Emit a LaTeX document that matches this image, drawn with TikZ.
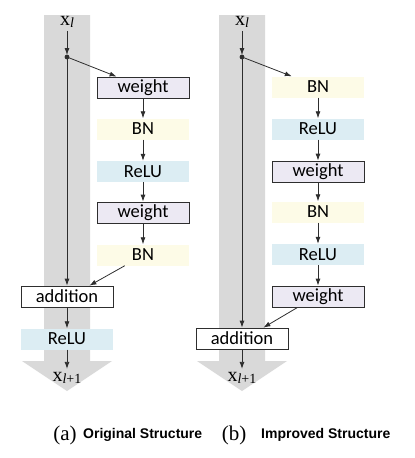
\documentclass[tikz,border=0pt]{standalone}
\usepackage{fontspec}
\setmainfont{Liberation Serif}
\newfontfamily\boxfont{Carlito}
\newfontfamily\capfont{Liberation Sans}
\usepackage{tikz}
\usetikzlibrary{arrows.meta}

\definecolor{bandgray}{HTML}{D9D9D9}
\definecolor{wfill}{HTML}{ECE9F3}
\definecolor{bnfill}{HTML}{FDFBE7}
\definecolor{relufill}{HTML}{DCEDF3}
\definecolor{linegray}{HTML}{2E2E2E}

\newcommand{\labin}{{\fontsize{20}{20}\selectfont x}\raisebox{-1.5pt}{\fontsize{14}{14}\selectfont\itshape l}}
\newcommand{\labout}{{\fontsize{20}{20}\selectfont x}\raisebox{-2pt}{\fontsize{14}{14}\selectfont\itshape l\upshape+1}}

\begin{document}
\begin{tikzpicture}[x=1pt, y=-1pt,
    line/.style={draw=linegray, line width=0.8pt},
    arr/.style={line, -{Latex[length=7pt,width=5pt]}},
    layer/.style={minimum width=92pt, minimum height=21pt, inner sep=0pt,
        font=\boxfont\fontsize{18.5}{18.5}\selectfont},
    wbox/.style={layer, fill=wfill, draw=linegray, line width=0.8pt},
    bnbox/.style={layer, fill=bnfill},
    relubox/.style={layer, fill=relufill},
    addbox/.style={layer, fill=white, draw=linegray, line width=0.8pt}]
    \useasboundingbox (0,0) rectangle (415,458);

    % gray identity bands
    \fill[bandgray] (44,15) -- (90,15) -- (90,361) -- (112,361) -- (67,391)
        -- (22,361) -- (44,361) -- cycle;
    \fill[bandgray] (219,15) -- (265,15) -- (265,361) -- (287,361) -- (242,391)
        -- (197,361) -- (219,361) -- cycle;

    % (a) original
    \node (inA) at (67,22) {\labin};
    \coordinate (dA) at (67,57);
    \fill[linegray] (dA) circle (2.4pt);
    \node[wbox] (wA1) at (143,87.5) {weight};
    \node[bnbox] (bnA1) at (143,129) {BN};
    \node[relubox] (reA1) at (143,171.5) {ReLU};
    \node[wbox] (wA2) at (143,212.5) {weight};
    \node[bnbox] (bnA2) at (143,255) {BN};
    \node[addbox] (addA) at (67,296.5) {addition};
    \node[relubox] (reA2) at (67,339) {ReLU};
    \node (outA) at (67,378) {\labout};

    \draw[arr, shorten >=2pt] (inA) -- (dA);
    \draw[arr] (dA) -- ([xshift=20pt]wA1.north west);
    \draw[arr] (dA) -- (dA |- addA.north);
    \draw[arr] (wA1) -- (bnA1);
    \draw[arr] (bnA1) -- (reA1);
    \draw[arr] (reA1) -- (wA2);
    \draw[arr] (wA2) -- (bnA2);
    \draw[arr] ([xshift=28pt]bnA2.south west) -- ([xshift=-24pt]addA.north east);
    \draw[arr] (addA) -- (reA2);
    \draw[arr] (reA2) -- (outA);

    % (b) improved
    \node (inB) at (242,22) {\labin};
    \coordinate (dB) at (242,57);
    \fill[linegray] (dB) circle (2.4pt);
    \node[bnbox] (bnB1) at (318,87) {BN};
    \node[relubox] (reB1) at (318,129) {ReLU};
    \node[wbox] (wB1) at (318,171.5) {weight};
    \node[bnbox] (bnB2) at (318,212) {BN};
    \node[relubox] (reB2) at (318,254.5) {ReLU};
    \node[wbox] (wB2) at (318,296.5) {weight};
    \node[addbox] (addB) at (242,338.5) {addition};
    \node (outB) at (242,378) {\labout};

    \draw[arr, shorten >=2pt] (inB) -- (dB);
    \draw[arr] (dB) -- ([xshift=20pt]bnB1.north west);
    \draw[arr] (dB) -- (dB |- addB.north);
    \draw[arr] (bnB1) -- (reB1);
    \draw[arr] (reB1) -- (wB1);
    \draw[arr] (wB1) -- (bnB2);
    \draw[arr] (bnB2) -- (reB2);
    \draw[arr] (reB2) -- (wB2);
    \draw[arr] ([xshift=26pt]wB2.south west) -- ([xshift=-25pt]addB.north east);
    \draw[arr] (addB) -- (outB);

    % captions
    \node[anchor=base] (capA) at (65,440) {\fontsize{21}{21}\selectfont (a)};
    \node[anchor=base west, inner sep=0pt, font=\capfont\bfseries\fontsize{14}{14}\selectfont]
        (txtA) at (83,438) {Original Structure};
    \node[anchor=base] (capB) at (234,440) {\fontsize{21}{21}\selectfont (b)};
    \node[anchor=base west, inner sep=0pt, font=\capfont\bfseries\fontsize{14}{14}\selectfont]
        (txtB) at (261,438) {Improved Structure};
\end{tikzpicture}
\end{document}
